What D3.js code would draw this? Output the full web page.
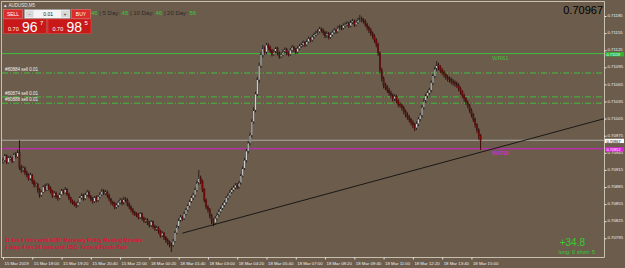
<!DOCTYPE html>
<html>
<head>
<meta charset="utf-8">
<script src="https://cdn.jsdelivr.net/npm/d3@7/dist/d3.min.js"></script>
<style>
  body { margin: 0; background: #6c5c4b; }
  svg text { font-family: "Liberation Sans", Arial, sans-serif; }
</style>
</head>
<body>
<script>
var w = 625;
var h = 268;

// prices in points (1 point = 0.00001)
var opens = [70930,70932,70940,70928,70936,70936,70930,70942,70938,70946,70920,70915,70918,70910,70906,70900,70906,70895,70888,70890,70880,70871,70876,70885,70880,70888,70883,70878,70870,70874,70868,70866,70872,70878,70875,70880,70872,70866,70860,70858,70855,70853,70858,70866,70870,70865,70871,70876,70868,70864,70860,70866,70862,70868,70872,70878,70874,70876,70870,70864,70858,70856,70850,70853,70858,70862,70857,70864,70862,70855,70850,70845,70840,70838,70836,70832,70838,70830,70826,70827,70822,70818,70824,70816,70812,70813,70808,70800,70804,70796,70792,70788,70785,70783,70790,70805,70815,70827,70832,70830,70838,70845,70852,70860,70866,70871,70880,70892,70901,70895,70880,70862,70850,70845,70835,70827,70822,70830,70836,70842,70848,70853,70858,70866,70870,70876,70880,70884,70888,70885,70892,70905,70918,70932,70948,70962,70976,71000,71020,71048,71073,71098,71117,71128,71122,71134,71130,71124,71118,71122,71128,71120,71114,71117,71122,71126,71120,71118,71125,71130,71126,71122,71128,71132,71134,71138,71135,71140,71145,71143,71148,71152,71155,71158,71162,71160,71156,71150,71154,71148,71152,71156,71160,71158,71164,71166,71164,71168,71170,71172,71168,71174,71176,71170,71174,71178,71180,71178,71176,71170,71165,71160,71155,71150,71143,71135,71120,71090,71075,71064,71060,71055,71050,71046,71040,71044,71036,71030,71029,71024,71018,71012,71008,71003,70998,70994,70989,70996,71004,71011,71025,71036,71045,71050,71055,71068,71080,71092,71099,71095,71090,71086,71082,71078,71075,71073,71070,71068,71066,71064,71058,71052,71046,71040,71034,71028,71020,71012,71004,70994,70985,70975];
var highs = [70936,70943,70942,70939,70940,70938,70945,70946,70950,70967,70924,70922,70921,70914,70909,70910,70908,70898,70894,70892,70883,70879,70888,70890,70892,70891,70886,70880,70878,70877,70871,70875,70882,70881,70885,70883,70875,70868,70863,70861,70858,70861,70869,70874,70873,70875,70880,70879,70871,70867,70869,70870,70871,70876,70882,70881,70880,70879,70873,70866,70861,70859,70857,70861,70866,70865,70868,70867,70865,70858,70853,70848,70843,70841,70839,70841,70840,70833,70831,70830,70825,70827,70826,70819,70817,70816,70810,70808,70806,70799,70795,70791,70788,70794,70808,70818,70830,70836,70835,70842,70848,70855,70863,70870,70875,70884,70896,70915,70905,70898,70883,70865,70853,70848,70838,70830,70834,70840,70846,70851,70857,70862,70869,70874,70880,70884,70888,70892,70892,70896,70908,70921,70936,70952,70966,70980,71004,71025,71052,71078,71103,71122,71134,71132,71138,71137,71133,71127,71126,71131,71131,71123,71121,71126,71130,71129,71123,71129,71134,71133,71129,71132,71136,71138,71142,71141,71144,71149,71148,71152,71156,71159,71162,71166,71165,71163,71159,71158,71157,71156,71160,71164,71163,71168,71170,71169,71172,71174,71176,71175,71178,71180,71179,71178,71182,71187,71184,71181,71179,71173,71168,71164,71158,71153,71146,71138,71123,71094,71079,71068,71064,71059,71054,71049,71048,71047,71039,71034,71032,71027,71021,71016,71011,71006,71002,70997,71000,71008,71015,71029,71040,71049,71054,71059,71072,71084,71096,71106,71103,71099,71094,71090,71086,71082,71079,71077,71074,71072,71070,71067,71061,71055,71049,71043,71037,71031,71023,71015,71007,70997,70988,70978];
var lows = [70926,70929,70925,70926,70932,70927,70928,70935,70936,70915,70910,70911,70906,70902,70896,70897,70890,70884,70885,70875,70866,70868,70874,70877,70878,70879,70874,70866,70867,70864,70861,70863,70870,70872,70873,70869,70862,70856,70854,70851,70848,70850,70856,70863,70861,70862,70868,70865,70860,70856,70857,70858,70859,70865,70869,70871,70871,70866,70860,70854,70852,70846,70847,70850,70855,70853,70854,70858,70851,70846,70841,70836,70834,70832,70828,70829,70826,70822,70822,70818,70814,70815,70812,70808,70808,70803,70796,70797,70792,70787,70783,70779,70771,70780,70788,70802,70812,70824,70826,70827,70835,70842,70849,70857,70862,70868,70877,70889,70890,70876,70858,70846,70840,70830,70820,70816,70819,70827,70833,70839,70845,70850,70855,70863,70867,70873,70877,70881,70881,70882,70889,70902,70915,70928,70944,70958,70972,70996,71016,71044,71068,71094,71112,71117,71118,71125,71120,71114,71115,71119,71116,71110,71111,71114,71119,71116,71114,71115,71122,71122,71118,71119,71125,71129,71131,71131,71132,71137,71139,71140,71145,71149,71152,71155,71156,71152,71146,71147,71144,71145,71149,71153,71154,71155,71161,71160,71161,71165,71167,71164,71165,71171,71166,71167,71171,71175,71174,71172,71166,71160,71155,71150,71145,71138,71130,71115,71084,71070,71058,71055,71050,71045,71041,71035,71036,71032,71025,71024,71019,71013,71007,71003,70998,70993,70988,70983,70985,70992,71000,71007,71021,71032,71041,71046,71051,71064,71076,71088,71090,71085,71081,71077,71073,71070,71068,71065,71063,71061,71059,71053,71047,71041,71035,71029,71023,71015,71007,70999,70989,70980,70968,70950];
var closes = [70932,70940,70928,70936,70936,70930,70942,70938,70946,70920,70915,70918,70910,70906,70900,70906,70895,70888,70890,70880,70871,70876,70885,70880,70888,70883,70878,70870,70874,70868,70866,70872,70878,70875,70880,70872,70866,70860,70858,70855,70853,70858,70866,70870,70865,70871,70876,70868,70864,70860,70866,70862,70868,70872,70878,70874,70876,70870,70864,70858,70856,70850,70853,70858,70862,70857,70864,70862,70855,70850,70845,70840,70838,70836,70832,70838,70830,70826,70827,70822,70818,70824,70816,70812,70813,70808,70800,70804,70796,70792,70788,70785,70783,70790,70805,70815,70827,70832,70830,70838,70845,70852,70860,70866,70871,70880,70892,70901,70895,70880,70862,70850,70845,70835,70827,70822,70830,70836,70842,70848,70853,70858,70866,70870,70876,70880,70884,70888,70885,70892,70905,70918,70932,70948,70962,70976,71000,71020,71048,71073,71098,71117,71128,71122,71134,71130,71124,71118,71122,71128,71120,71114,71117,71122,71126,71120,71118,71125,71130,71126,71122,71128,71132,71134,71138,71135,71140,71145,71143,71148,71152,71155,71158,71162,71160,71156,71150,71154,71148,71152,71156,71160,71158,71164,71166,71164,71168,71170,71172,71168,71174,71176,71170,71174,71178,71180,71178,71176,71170,71165,71160,71155,71150,71143,71135,71120,71090,71075,71064,71060,71055,71050,71046,71040,71044,71036,71030,71029,71024,71018,71012,71008,71003,70998,70994,70989,70996,71004,71011,71025,71036,71045,71050,71055,71068,71080,71092,71099,71095,71090,71086,71082,71078,71075,71073,71070,71068,71066,71064,71058,71052,71046,71040,71034,71028,71020,71012,71004,70994,70985,70975,70967];

var priceTicks = [71185,71155,71125,71095,71065,71035,71005,70975,70945,70915,70885,70855,70825,70795];
var timeTickBars = [0,16,32,48,64,80,96,112,128,144,160,176,192,208,224,240,256];
var timeLabels = ['15 Mar 2019','15 Mar 18:00','15 Mar 19:20','15 Mar 20:40','15 Mar 22:00','18 Mar 00:20','18 Mar 01:40','18 Mar 03:00','18 Mar 04:20','18 Mar 05:40','18 Mar 07:00','18 Mar 08:20','18 Mar 09:40','18 Mar 11:00','18 Mar 12:20','18 Mar 13:40','18 Mar 15:00'];

var bid = 70967;
var wrLevels = [71119, 70952];
var wrNames = ['WR61', 'WR38'];
var orderLevels = [71085, 71043, 71032];
var orderNames = ['#80884 sell 0.01', '#80874 sell 0.01', '#80888 sell 0.01'];
var trendBars = [98, 261];
var trendPrices = [70804, 70946];

var dayStats = [['', '46'], [' | 5 Day: ', '45'], [' | 10 Day: ', '46'], [' |   20 Day: ', '56']];

var svg = d3.select('body')
            .append('svg')
            .attr('width', w)
            .attr('height', h);

var x = d3.scaleLinear().domain([0, 261]).range([3, 480.6]);
var y = d3.scaleLinear().domain([70795, 71185]).range([238.3, 16]);
var fmt = function(v) { return d3.format('.5f')(v / 1e5); };

svg.append('rect').attr('width', w).attr('height', h).attr('fill', '#6c5c4b');

// frame
svg.append('path')
   .attr('d', 'M1.5,258 V1.5 H604.5 V257.5 H1.5')
   .attr('fill', 'none')
   .attr('stroke', '#c9bfae')
   .attr('stroke-width', 1);

// horizontal levels
svg.append('line').attr('x1', 2).attr('x2', 604).attr('y1', y(wrLevels[0])).attr('y2', y(wrLevels[0]))
   .attr('stroke', '#3fbf3f').attr('stroke-width', 1);
svg.append('line').attr('x1', 2).attr('x2', 604).attr('y1', y(wrLevels[1])).attr('y2', y(wrLevels[1]))
   .attr('stroke', '#d21fd2').attr('stroke-width', 1);
svg.append('line').attr('x1', 2).attr('x2', 604).attr('y1', y(bid)).attr('y2', y(bid))
   .attr('stroke', '#a9a9a9').attr('stroke-width', 1);

svg.selectAll('line.order')
   .data(orderLevels)
   .enter()
   .append('line')
   .attr('class', 'order')
   .attr('x1', 2).attr('x2', 604)
   .attr('y1', function(d) { return y(d); })
   .attr('y2', function(d) { return y(d); })
   .attr('stroke', '#3fbf3f')
   .attr('stroke-dasharray', '6,2,1,2');

svg.selectAll('text.order')
   .data(orderLevels)
   .enter()
   .append('text')
   .attr('class', 'order')
   .attr('x', 5)
   .attr('y', function(d) { return y(d) - 2; })
   .attr('font-size', 4.5)
   .attr('fill', '#f0f0f0')
   .text(function(d, i) { return orderNames[i]; });

svg.selectAll('text.wr')
   .data(wrLevels)
   .enter()
   .append('text')
   .attr('class', 'wr')
   .attr('x', 492)
   .attr('y', function(d) { return y(d) + 6; })
   .attr('font-size', 6)
   .attr('fill', function(d, i) { return i == 0 ? '#3fbf3f' : '#e020e0'; })
   .text(function(d, i) { return wrNames[i]; });

// candles
var candles = svg.append('g');
var idx = d3.range(closes.length);

candles.selectAll('line')
       .data(idx)
       .enter()
       .append('line')
       .attr('x1', function(i) { return x(i); })
       .attr('x2', function(i) { return x(i); })
       .attr('y1', function(i) { return y(highs[i]); })
       .attr('y2', function(i) { return y(lows[i]); })
       .attr('stroke', function(i) { return closes[i] >= opens[i] ? '#1c1c1c' : '#3a0000'; })
       .attr('stroke-width', 0.9);

candles.selectAll('rect')
       .data(idx)
       .enter()
       .append('rect')
       .attr('x', function(i) { return x(i) - 0.75; })
       .attr('width', 1.5)
       .attr('y', function(i) { return y(Math.max(opens[i], closes[i])); })
       .attr('height', function(i) { return Math.max(0.8, Math.abs(y(opens[i]) - y(closes[i]))); })
       .attr('fill', function(i) { return closes[i] >= opens[i] ? '#cfcfcf' : '#7a0606'; })
       .attr('stroke', '#1c1c1c')
       .attr('stroke-width', 0.25);

// trend line (ray to the right edge)
var slope = (y(trendPrices[1]) - y(trendPrices[0])) / (x(trendBars[1]) - x(trendBars[0]));
svg.append('line')
   .attr('x1', x(trendBars[0]))
   .attr('y1', y(trendPrices[0]))
   .attr('x2', 604)
   .attr('y2', y(trendPrices[0]) + slope * (604 - x(trendBars[0])))
   .attr('stroke', '#111')
   .attr('stroke-width', 0.9);

// price axis
var yAxis = d3.axisRight(y).tickValues(priceTicks).tickSize(2).tickPadding(1).tickFormat(fmt);
var ya = svg.append('g').attr('transform', 'translate(604.5,0)').call(yAxis);
ya.select('.domain').remove();
ya.selectAll('line').attr('stroke', '#e8e8e8');
ya.selectAll('text').attr('font-size', 4.3).attr('fill', '#f0f0f0').attr('font-family', 'Liberation Sans')
  .attr('dy', '0.15em');

// price boxes on the axis
var boxes = [[wrLevels[0], '#2fb52f', '#ffffff'], [bid, '#ffffff', '#000000'], [wrLevels[1], '#e020e0', '#ffffff']];
boxes.forEach(function(b) {
    svg.append('rect').attr('x', 605).attr('y', y(b[0]) - 1.5).attr('width', 19).attr('height', 4.3).attr('fill', b[1]);
    svg.append('text').attr('x', 606.5).attr('y', y(b[0]) + 2.4).attr('font-size', 3.9).attr('fill', b[2]).text(fmt(b[0]));
});

// time axis
var xAxis = d3.axisBottom(x).tickValues(timeTickBars).tickSize(2).tickPadding(2)
              .tickFormat(function(d, i) { return timeLabels[i]; });
var xa = svg.append('g').attr('transform', 'translate(0,257.5)').call(xAxis);
xa.select('.domain').remove();
xa.selectAll('line').attr('stroke', '#e8e8e8');
xa.selectAll('text').attr('font-size', 4.3).attr('fill', '#f0f0f0').attr('text-anchor', 'start')
  .attr('font-family', 'Liberation Sans').attr('dx', 1);

// title
svg.append('text').attr('x', 3).attr('y', 6.5).attr('font-size', 4.5).attr('fill', '#e8e8e8').text('\u25B2 AUDUSD,M5');

// current price at top right
svg.append('text').attr('x', 603).attr('y', 13.5).attr('text-anchor', 'end').attr('font-size', 11)
   .attr('fill', '#000').text(fmt(bid));

// day stats
var st = svg.append('text').attr('x', 91).attr('y', 15).attr('font-size', 6);
dayStats.forEach(function(s) {
    st.append('tspan').attr('fill', '#2a2a2a').text(s[0]);
    st.append('tspan').attr('fill', '#33cc33').text(s[1]);
});

// one click trading panel
var panel = svg.append('g');
panel.append('rect').attr('x', 3.5).attr('y', 9.5).attr('width', 19).attr('height', 9).attr('fill', '#dc2b2b').attr('stroke', '#f08080').attr('stroke-width', 0.5);
panel.append('text').attr('x', 13).attr('y', 16.3).attr('text-anchor', 'middle').attr('font-size', 5).attr('fill', '#fff').text('SELL');
panel.append('rect').attr('x', 71.5).attr('y', 9.5).attr('width', 19).attr('height', 9).attr('fill', '#dc2b2b').attr('stroke', '#f08080').attr('stroke-width', 0.5);
panel.append('text').attr('x', 81).attr('y', 16.3).attr('text-anchor', 'middle').attr('font-size', 5).attr('fill', '#fff').text('BUY');
panel.append('rect').attr('x', 24.5).attr('y', 9.5).attr('width', 45.5).attr('height', 9).attr('fill', '#f4f4f4').attr('stroke', '#999').attr('stroke-width', 0.5);
panel.append('rect').attr('x', 25.5).attr('y', 10.5).attr('width', 8).attr('height', 7).attr('fill', '#d8d8d8');
panel.append('rect').attr('x', 61).attr('y', 10.5).attr('width', 8).attr('height', 7).attr('fill', '#d8d8d8');
panel.append('text').attr('x', 29.5).attr('y', 15.5).attr('text-anchor', 'middle').attr('font-size', 5).attr('fill', '#333').text('-');
panel.append('text').attr('x', 65).attr('y', 15.5).attr('text-anchor', 'middle').attr('font-size', 5).attr('fill', '#333').text('+');
panel.append('text').attr('x', 53).attr('y', 16).attr('text-anchor', 'end').attr('font-size', 5).attr('fill', '#222').text('0.01');

var quotes = [[3.5, '0.70', '96', '7'], [48, '0.70', '98', '5']];
quotes.forEach(function(q) {
    panel.append('rect').attr('x', q[0]).attr('y', 19).attr('width', 43).attr('height', 14.5).attr('fill', '#c81818').attr('stroke', '#e85050').attr('stroke-width', 0.5);
    panel.append('text').attr('x', q[0] + 4.5).attr('y', 31).attr('font-size', 5.5).attr('fill', '#fff').text(q[1]);
    panel.append('text').attr('x', q[0] + 18.5).attr('y', 32).attr('font-size', 14).attr('fill', '#fff').text(q[2]);
    panel.append('text').attr('x', q[0] + 36.5).attr('y', 25).attr('font-size', 6).attr('fill', '#fff').text(q[3]);
});

// news countdown
var news = ['11 hrs 4 mins until AUD: Monetary Policy Meeting Minutes', '2 days 4 hrs 34 mins until USD: Federal Funds Rate'];
svg.selectAll('text.news')
   .data(news)
   .enter()
   .append('text')
   .attr('class', 'news')
   .attr('x', 5)
   .attr('y', function(d, i) { return 242 + i * 6.5; })
   .attr('font-size', 5)
   .attr('font-weight', 'bold')
   .attr('fill', '#e0103a')
   .text(function(d) { return d; });

// profit block
svg.append('text').attr('x', 585).attr('y', 246).attr('text-anchor', 'end').attr('font-size', 10).attr('fill', '#33cc33').text('+34.8');
svg.append('text').attr('x', 595).attr('y', 254).attr('text-anchor', 'end').attr('font-size', 5.5).attr('fill', '#33cc33').text('long: 0    short: 5');
</script>
</body>
</html>
